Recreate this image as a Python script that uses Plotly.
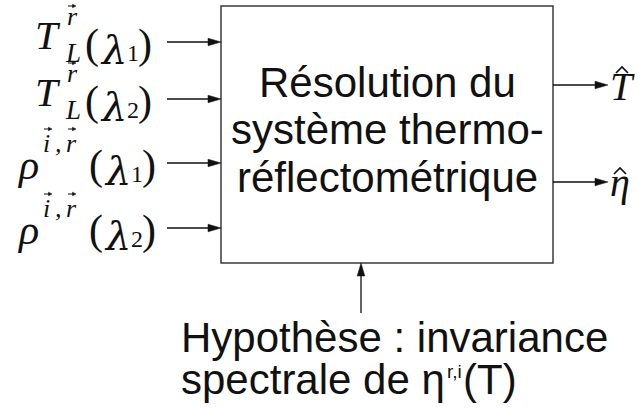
import math
import plotly.graph_objects as go

# ---- content ----
input_base = ["T", "T", "ρ", "ρ"]
input_sup = [["r"], ["r"], ["i", ",", "r"], ["i", ",", "r"]]
input_sub = ["L", "L", "", ""]
input_lambda_idx = ["1", "2", "1", "2"]
output_labels = ["T", "η"]  # drawn with a hat (estimate symbols)
box_lines = ["Résolution du", "système thermo-", "réflectométrique"]
hyp_line1 = "Hypothèse : invariance"
hyp_line2 = "spectrale de η"
hyp_sup = "r,i"
hyp_tail = "(T)"

W, H = 638, 408
SERIF = "Liberation Serif, Times New Roman, serif"
SERIF2 = "DejaVu Serif, serif"
SANS = "Liberation Sans, Arial, sans-serif"
INK = "#111111"

annotations = []
shapes = []


def text(x, baseline, s, size, family, italic=False, asc=0.891, desc=0.216, anchor="left"):
    y = baseline - (asc - desc) / 2 * size
    annotations.append(dict(
        x=x, y=y, xref="x", yref="y", showarrow=False,
        text=f"<i>{s}</i>" if italic else s,
        xanchor=anchor, yanchor="middle", borderpad=0,
        font=dict(size=size, family=family, color=INK)))


def arrow(x0, y0, x1, y1, head=13, half=3.8, width=1.3):
    L = math.hypot(x1 - x0, y1 - y0)
    ux, uy = (x1 - x0) / L, (y1 - y0) / L
    bx, by = x1 - ux * head, y1 - uy * head
    px, py = -uy, ux
    shapes.append(dict(type="line", xref="x", yref="y", x0=x0, y0=y0, x1=bx + ux, y1=by + uy,
                       line=dict(color=INK, width=width)))
    path = (f"M {bx + px * half} {by + py * half} L {x1} {y1} "
            f"L {bx - px * half} {by - py * half} Z")
    shapes.append(dict(type="path", xref="x", yref="y", path=path,
                       fillcolor=INK, line=dict(color=INK, width=0.5)))


def vec(x, y, w=8):
    arrow(x, y, x + w, y, head=3.5, half=1.8, width=1)


def hat(xc, ytop, half_w=6, h=6):
    shapes.append(dict(type="path", xref="x", yref="y",
                       path=f"M {xc - half_w} {ytop + h} L {xc} {ytop} L {xc + half_w} {ytop + h}",
                       line=dict(color=INK, width=1.6)))


# ---- central box ----
BX0, BX1, BY0, BY1 = 221, 553, 6, 263
shapes.append(dict(type="rect", xref="x", yref="y", x0=BX0, x1=BX1, y0=BY0, y1=BY1,
                   line=dict(color="#3a3a3a", width=1.5), fillcolor="rgba(0,0,0,0)"))

box_baselines = [97, 144, 192]
for s, b in zip(box_lines, box_baselines):
    text((BX0 + BX1) / 2, b, s, 42, SANS, asc=0.905, desc=0.212, anchor="center")

# ---- inputs ----
arrow_y = [42, 99, 163, 228]
for i, a in enumerate(arrow_y):
    arrow(167, a, BX0, a)
    if input_base[i] == "T":
        text(34, a + 7, input_base[i], 41, SERIF, italic=True)
        text(66, a - 17, input_sup[i][0], 26, SERIF, italic=True)
        vec(68, a - 36)
        text(64, a + 20, input_sub[i], 27, SERIF, italic=True)
        px = 84
    else:
        text(16, a + 16, input_base[i], 42, SERIF, italic=True)
        text(42, a - 11, input_sup[i][0], 26, SERIF, italic=True)
        text(54, a - 11, input_sup[i][1], 26, SERIF, italic=True)
        text(65, a - 11, input_sup[i][2], 26, SERIF, italic=True)
        vec(44, a - 34)
        vec(68, a - 34)
        px = 88
    text(px, a + 17, "(", 42, SERIF)
    text(px + 15, a + 18, "λ", 40, SERIF2, italic=True, asc=0.759, desc=0.240)
    text(px + 42, a + 19, input_lambda_idx[i], 24, SERIF)
    text(px + 53, a + 17, ")", 42, SERIF)

# ---- outputs ----
out_y = [85, 182]
out_base = [100, 196]
hat_pos = [(622, 67), (620, 168)]
for lab, a, b, (hx, hy) in zip(output_labels, out_y, out_base, hat_pos):
    arrow(BX1, a, 608, a)
    text(609, b, lab, 40, SERIF, italic=True)
    hat(hx, hy)

# ---- hypothesis ----
arrow(361, 313, 361, BY1)
text(180, 352, hyp_line1, 42, SANS, asc=0.905, desc=0.212)
text(180, 394, hyp_line2, 42, SANS, asc=0.905, desc=0.212)
text(446, 378, hyp_sup, 19, SANS, asc=0.905, desc=0.212)
text(462, 394, hyp_tail, 42, SANS, asc=0.905, desc=0.212)

fig = go.Figure()
fig.update_layout(
    width=W, height=H,
    margin=dict(l=0, r=0, t=0, b=0),
    paper_bgcolor="white", plot_bgcolor="white",
    xaxis=dict(range=[0, W], visible=False, fixedrange=True),
    yaxis=dict(range=[H, 0], visible=False, fixedrange=True),
    shapes=shapes, annotations=annotations, showlegend=False,
)
fig.write_html(
    "out.html",
    config={"displayModeBar": False, "staticPlot": True},
    post_script="document.body.style.margin='0';document.body.style.overflow='hidden';",
)
